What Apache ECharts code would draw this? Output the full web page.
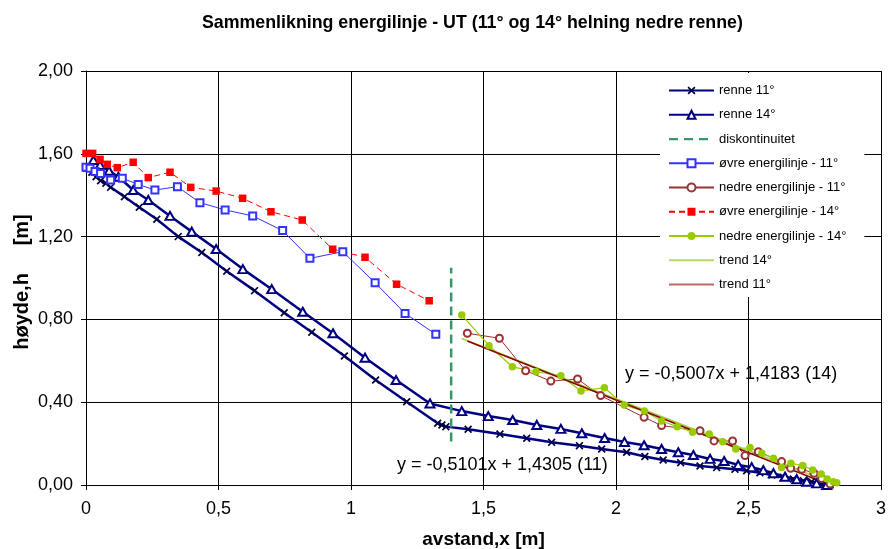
<!DOCTYPE html>
<html><head><meta charset="utf-8">
<script src="https://cdn.jsdelivr.net/npm/echarts@6/dist/echarts.min.js"></script>
<style>html,body{margin:0;padding:0;background:#fff}#c{width:888px;height:549px}</style>
</head><body><div id="c"></div>
<script>
// ---- data ----
const renne11X = [0.003,0.022,0.038,0.055,0.075,0.093,0.145,0.201,0.267,0.348,0.437,0.531,0.636,0.748,0.852,0.975,1.093,1.210,1.327,1.343,1.358,1.442,1.562,1.663,1.757,1.862,1.946,2.040,2.109,2.178,2.244,2.317,2.380,2.449,2.493,2.543,2.588,2.631,2.669,2.707,2.738,2.770,2.808];
const renne11Y = [1.530,1.511,1.489,1.470,1.458,1.438,1.393,1.342,1.284,1.200,1.123,1.033,0.939,0.832,0.738,0.623,0.507,0.402,0.298,0.290,0.282,0.269,0.246,0.226,0.206,0.190,0.174,0.158,0.138,0.121,0.108,0.092,0.084,0.076,0.069,0.059,0.048,0.037,0.029,0.021,0.016,0.008,0.000];

const renne14X = [0.028,0.053,0.087,0.122,0.178,0.235,0.317,0.399,0.491,0.592,0.701,0.818,0.932,1.053,1.170,1.298,1.418,1.518,1.610,1.701,1.792,1.871,1.957,2.032,2.106,2.172,2.235,2.292,2.355,2.408,2.461,2.512,2.556,2.594,2.638,2.682,2.720,2.757,2.795];
const renne14Y = [1.570,1.546,1.518,1.489,1.425,1.377,1.300,1.224,1.140,1.043,0.946,0.837,0.733,0.615,0.507,0.394,0.357,0.333,0.314,0.290,0.271,0.250,0.227,0.208,0.192,0.174,0.158,0.145,0.126,0.116,0.097,0.086,0.072,0.057,0.040,0.028,0.016,0.008,0.000];

const diskX = [1.378,1.378];
const diskY = [0.21,1.05];

const ovre11X = [0.000,0.015,0.034,0.055,0.093,0.137,0.197,0.260,0.345,0.430,0.525,0.629,0.742,0.845,0.969,1.091,1.204,1.320];
const ovre11Y = [1.535,1.530,1.515,1.505,1.473,1.482,1.452,1.425,1.441,1.364,1.329,1.300,1.229,1.095,1.127,0.977,0.829,0.728];

const nedre11X = [1.439,1.560,1.659,1.754,1.855,1.942,2.106,2.172,2.317,2.370,2.440,2.487,2.537,2.625,2.659,2.701,2.747,2.776,2.808];
const nedre11Y = [0.733,0.709,0.552,0.502,0.512,0.432,0.327,0.287,0.262,0.213,0.213,0.142,0.161,0.113,0.081,0.076,0.057,0.032,0.005];

const ovre14X = [0.000,0.025,0.053,0.080,0.118,0.178,0.235,0.317,0.395,0.491,0.591,0.698,0.816,0.931,1.053,1.172,1.295];
const ovre14Y = [1.602,1.602,1.573,1.549,1.533,1.559,1.485,1.511,1.438,1.420,1.385,1.320,1.280,1.139,1.100,0.970,0.890];

const nedre14X = [1.418,1.521,1.609,1.698,1.792,1.868,1.956,2.031,2.107,2.172,2.231,2.289,2.352,2.403,2.452,2.506,2.550,2.594,2.625,2.660,2.705,2.742,2.774,2.797,2.820,2.833];
const nedre14Y = [0.821,0.673,0.571,0.547,0.528,0.454,0.470,0.386,0.357,0.309,0.282,0.255,0.246,0.209,0.174,0.181,0.153,0.129,0.084,0.105,0.094,0.072,0.053,0.029,0.016,0.011];

const trend14X = [1.418,2.833];
const trend14Y = [0.708,0.000];
const trend11X = [1.439,2.808];
const trend11Y = [0.696,0.000];

const xTicks = {min:0, max:3, step:0.5};
const yTicks = {min:0, max:2, step:0.4};

const seriesNames = ['renne 11°','renne 14°','diskontinuitet','øvre energilinje - 11°','nedre energilinje - 11°','øvre energilinje - 14°','nedre energilinje - 14°','trend 14°','trend 11°'];
const titleText = 'Sammenlikning energilinje - UT (11° og 14° helning nedre renne)';
const xName = 'avstand,x [m]';
const yName = 'høyde,h     [m]';
const eq14 = 'y = -0,5007x + 1,4183 (14)';
const eq11 = 'y = -0,5101x + 1,4305 (11)';

// ---- chart ----
function pairs(xs, ys){ return xs.map((x,i)=>[x, ys[i]]); }
const FONT = '"Liberation Sans", Arial, sans-serif';
const xMarker = 'path://M0,1.5L1.5,0L5,3.5L8.5,0L10,1.5L6.5,5L10,8.5L8.5,10L5,6.5L1.5,10L0,8.5L3.5,5Z';
// legend icons (line only) — tiny corner points fix the icon's box (45 x 10)
const solidIcon = 'path://M0,0h0.01v0.01h-0.01z M0,9.99h0.01v0.01h-0.01z M0,4h45v2h-45z';
const dashIcon = 'path://M0,0h0.01v0.01h-0.01z M0,9.99h0.01v0.01h-0.01z M0,3.9h9v2.3h-9z M15,3.9h9v2.3h-9z M30,3.9h9v2.3h-9z M44.99,4h0.01v0.01h-0.01z';
const chart = echarts.init(document.getElementById('c'));

const legendData = seriesNames.map((n,i)=>{
  if (i===2) return {name:n, icon:dashIcon};
  if (i===7 || i===8) return {name:n, icon:solidIcon};
  return {name:n};
});

const option = {
  animation:false,
  backgroundColor:'#ffffff',
  textStyle:{fontFamily:FONT},
  grid:{left:86,right:7,top:71,bottom:64,containLabel:false,outerBoundsMode:'none'},
  xAxis:{
    type:'value', min:xTicks.min, max:xTicks.max, interval:xTicks.step,
    axisLine:{onZero:false, lineStyle:{color:'#000',width:1}},
    axisTick:{show:true,length:5,lineStyle:{color:'#000'}},
    axisLabel:{color:'#000',fontSize:18,fontFamily:FONT,margin:15,formatter:v=>String(v).replace('.',',')},
    splitLine:{show:true,lineStyle:{color:'#000',width:1}},
    name:xName, nameLocation:'middle', nameGap:45,
    nameTextStyle:{color:'#000',fontSize:19,fontWeight:'bold',fontFamily:FONT}
  },
  yAxis:{
    type:'value', min:yTicks.min, max:yTicks.max, interval:yTicks.step,
    axisLine:{show:true,onZero:false,lineStyle:{color:'#000',width:1}},
    axisTick:{show:true,length:5,lineStyle:{color:'#000'}},
    axisLabel:{color:'#000',fontSize:18,fontFamily:FONT,margin:13,formatter:v=>v.toFixed(2).replace('.',',')},
    splitLine:{show:true,lineStyle:{color:'#000',width:1}}
  },
  legend:{
    orient:'vertical', left:660, top:73,
    itemWidth:45, itemHeight:10, itemGap:11.25,
    padding:[11,18,6,8], backgroundColor:'#ffffff',
    textStyle:{color:'#000',fontSize:13,fontFamily:FONT},
    data:legendData
  },
  graphic:[
    {type:'text', left:202, top:14, style:{text:titleText, fill:'#000', font:'bold 17.8px '+FONT}},
    {type:'text', x:22, y:282, rotation:Math.PI/2, style:{text:yName, fill:'#000', font:'bold 20px '+FONT, align:'center', verticalAlign:'middle'}},
    {type:'text', left:625, top:365, style:{text:eq14, fill:'#000', font:'18px '+FONT}, z:10},
    {type:'text', left:397, top:456, style:{text:eq11, fill:'#000', font:'18px '+FONT}, z:10}
  ],
  series:[
    {name:seriesNames[0], type:'line', data:pairs(renne11X,renne11Y), symbol:xMarker, symbolSize:8,
      lineStyle:{color:'#000080',width:2.5}, itemStyle:{color:'#000040'}},
    {name:seriesNames[1], type:'line', data:pairs(renne14X,renne14Y), symbol:'emptyTriangle', symbolSize:[9,8],
      lineStyle:{color:'#000080',width:2.5}, itemStyle:{color:'#000080',borderWidth:1.3}},
    {name:seriesNames[2], type:'line', data:pairs(diskX,diskY), symbol:'none',
      lineStyle:{color:'#339966',width:2.5,type:[9,5]}, itemStyle:{color:'#339966'}},
    {name:seriesNames[3], type:'line', data:pairs(ovre11X,ovre11Y), symbol:'emptyRect', symbolSize:7,
      lineStyle:{color:'#3333ff',width:1}, itemStyle:{color:'#3333ff',borderWidth:1.2}},
    {name:seriesNames[4], type:'line', data:pairs(nedre11X,nedre11Y), symbol:'emptyCircle', symbolSize:7,
      lineStyle:{color:'#993333',width:1}, itemStyle:{color:'#993333',borderWidth:1.2}},
    {name:seriesNames[5], type:'line', data:pairs(ovre14X,ovre14Y), symbol:'rect', symbolSize:7.5,
      lineStyle:{color:'#ff0000',width:1,type:[6,4]}, itemStyle:{color:'#ff0000'}},
    {name:seriesNames[6], type:'line', data:pairs(nedre14X,nedre14Y), symbol:'circle', symbolSize:7.5,
      lineStyle:{color:'#99cc00',width:1.2}, itemStyle:{color:'#99cc00'}},
    {name:seriesNames[7], type:'line', data:pairs(trend14X,trend14Y), symbol:'none',
      lineStyle:{color:'#a8d040',width:1.5}, itemStyle:{color:'#b5d96a'}},
    {name:seriesNames[8], type:'line', data:pairs(trend11X,trend11Y), symbol:'none',
      lineStyle:{color:'#8b0000',width:1.5}, itemStyle:{color:'#b86b6b'}}
  ]
};
chart.setOption(option);
</script>
</body></html>
